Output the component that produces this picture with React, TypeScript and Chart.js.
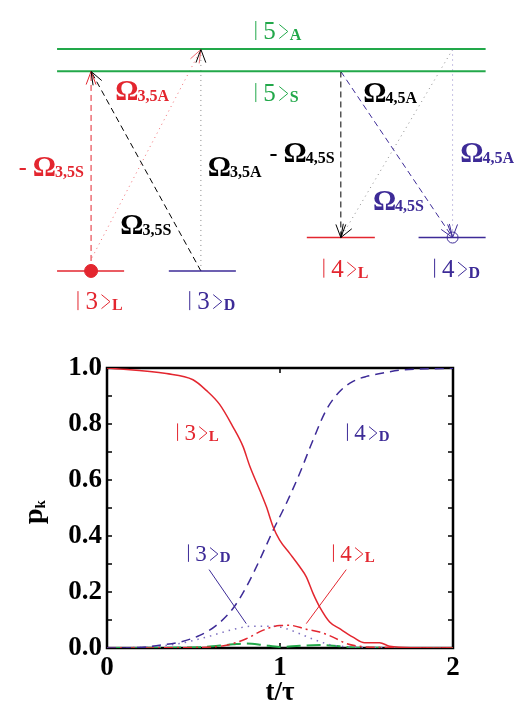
import React, { useEffect, useRef } from 'react';
import { Chart, registerables } from 'chart.js';
Chart.register(...registerables);

const RED = '#e3262f';
const PURPLE = '#3d2b97';
const GREEN = '#22a84a';
const GRAY = '#8a8a8a';
const SERIF = '"Liberation Serif", "DejaVu Serif", serif';

// ---------- bottom plot: populations p_k vs t/tau ----------
const t3L = [0, 0.343, 0.497, 0.574, 0.651, 0.728, 0.786, 0.825, 0.882, 0.921, 0.96, 0.998, 1.056, 1.114, 1.152, 1.191, 1.229, 1.287, 1.345, 1.422, 1.489, 1.576, 1.634, 1.788, 2];
const p3L = [1, 0.98, 0.958, 0.92, 0.87, 0.79, 0.72, 0.65, 0.565, 0.505, 0.433, 0.385, 0.338, 0.29, 0.254, 0.195, 0.147, 0.093, 0.069, 0.039, 0.019, 0.019, 0.006, 0.001, 0];

const t4D = [0, 0.189, 0.304, 0.42, 0.536, 0.632, 0.728, 0.805, 0.882, 0.96, 1.037, 1.114, 1.191, 1.268, 1.345, 1.422, 1.5, 1.595, 1.69, 1.807, 2];
const p4D = [0, 0.002, 0.01, 0.021, 0.045, 0.081, 0.141, 0.218, 0.314, 0.42, 0.517, 0.624, 0.743, 0.851, 0.916, 0.952, 0.97, 0.982, 0.992, 0.996, 0.999];

const t4L = [0, 0.536, 0.69, 0.805, 0.9, 0.998, 1.056, 1.152, 1.229, 1.306, 1.383, 1.46, 1.595, 2];
const p4L = [0, 0.002, 0.01, 0.033, 0.063, 0.08, 0.081, 0.067, 0.057, 0.039, 0.016, 0.006, 0.002, 0];

const t3D = [0, 0.247, 0.42, 0.574, 0.728, 0.844, 0.96, 1.037, 1.114, 1.21, 1.306, 1.422, 2];
const p3D = [0, 0.004, 0.016, 0.039, 0.066, 0.078, 0.078, 0.069, 0.051, 0.027, 0.01, 0.004, 0];

const t5 = [0, 0.536, 0.728, 0.805, 0.9, 0.998, 1.114, 1.229, 1.345, 1.46, 2];
const p5 = [0, 0.003, 0.013, 0.016, 0.011, 0.004, 0.008, 0.011, 0.006, 0.001, 0];

const xTickValues = [0, 1, 2];
const yTickValues = [0, 0.2, 0.4, 0.6, 0.8, 1.0];
const yMinorTicks = [0.1, 0.2, 0.3, 0.4, 0.5, 0.6, 0.7, 0.8, 0.9];
const xMinorTicks = [1];

// pointer lines from curve labels (t, p)
const pointer3D = [[0.59, 0.28], [0.805, 0.087]];
const pointer4L = [[1.383, 0.28], [1.152, 0.087]];

// curve labels: left edge (t), baseline (p)
const plotKets = [
  { t: 0.405, p: 0.743, digit: '3', sub: 'L', color: RED },
  { t: 1.387, p: 0.743, digit: '4', sub: 'D', color: PURPLE },
  { t: 0.468, p: 0.311, digit: '3', sub: 'D', color: PURPLE },
  { t: 1.306, p: 0.311, digit: '4', sub: 'L', color: RED },
];

// ---------- top diagram (diagram units) ----------
const levels = [
  { x1: 51, x2: 492, y: 43.5, color: GREEN, w: 2 },   // |5>A
  { x1: 51, x2: 492, y: 66.7, color: GREEN, w: 2 },   // |5>S
  { x1: 51, x2: 120, y: 276, color: RED, w: 1.5 },    // |3>L
  { x1: 166, x2: 235, y: 276, color: PURPLE, w: 1.5 },// |3>D
  { x1: 308, x2: 378, y: 241, color: RED, w: 1.5 },   // |4>L
  { x1: 423, x2: 492, y: 241, color: PURPLE, w: 1.5 },// |4>D
];

const transitions = [
  { from: [86, 276], to: [86, 67], color: RED, dash: [6, 4] },
  { from: [199, 276], to: [86, 67], color: '#000', dash: [6, 4] },
  { from: [87, 262], to: [199, 44], color: '#f06a70', dash: [1, 4] },
  { from: [199, 276], to: [199, 44], color: GRAY, dash: [1, 4], head: '#000' },
  { from: [343, 67], to: [343, 241], color: '#000', dash: [6, 4] },
  { from: [343, 67], to: [458, 241], color: PURPLE, dash: [6, 4] },
  { from: [458, 44], to: [343, 241], color: GRAY, dash: [1, 4], head: '#000' },
  { from: [458, 44], to: [458, 241], color: '#8f86c8', dash: [1, 4], head: PURPLE },
];

const diagramKets = [
  { x: 255, y: 33, digit: '5', sub: 'A', color: GREEN },
  { x: 255, y: 98, digit: '5', sub: 'S', color: GREEN },
  { x: 72, y: 316, digit: '3', sub: 'L', color: RED },
  { x: 187, y: 316, digit: '3', sub: 'D', color: PURPLE },
  { x: 325, y: 282, digit: '4', sub: 'L', color: RED },
  { x: 439, y: 282, digit: '4', sub: 'D', color: PURPLE },
];

const omegaLabels = [
  { x: 26, y: 177, sub: '3,5S', color: RED, minus: true },
  { x: 111, y: 97, sub: '3,5A', color: RED, minus: false },
  { x: 116, y: 237, sub: '3,5S', color: '#000', minus: false },
  { x: 206, y: 177, sub: '3,5A', color: '#000', minus: false },
  { x: 284, y: 162, sub: '4,5S', color: '#000', minus: true },
  { x: 366, y: 99, sub: '4,5A', color: '#000', minus: false },
  { x: 376, y: 212, sub: '4,5S', color: PURPLE, minus: false },
  { x: 466, y: 162, sub: '4,5A', color: PURPLE, minus: false },
];

const filledDot = [86, 276];
const openDot = [458, 241];

function drawKet(ctx: CanvasRenderingContext2D, x: number, base: number, digit: string, sub: string, color: string, s: number) {
  ctx.save();
  ctx.strokeStyle = color;
  ctx.fillStyle = color;
  ctx.lineWidth = 1;
  ctx.setLineDash([]);
  ctx.beginPath();
  ctx.moveTo(x + 0.5, base - 0.72 * s);
  ctx.lineTo(x + 0.5, base + 0.04 * s);
  ctx.stroke();
  ctx.font = `${s}px ${SERIF}`;
  ctx.textAlign = 'left';
  ctx.textBaseline = 'alphabetic';
  const dx = x + 0.32 * s;
  ctx.fillText(digit, dx, base);
  const dw = ctx.measureText(digit).width;
  const bx = dx + dw + 0.14 * s;
  const bw = 0.34 * s;
  ctx.beginPath();
  ctx.moveTo(bx, base - 0.58 * s);
  ctx.lineTo(bx + bw, base - 0.3 * s);
  ctx.lineTo(bx, base - 0.02 * s);
  ctx.stroke();
  ctx.font = `bold ${Math.round(0.64 * s)}px ${SERIF}`;
  ctx.fillText(sub, bx + bw + 0.08 * s, base + 0.04 * s);
  ctx.restore();
}

function drawOmega(ctx: CanvasRenderingContext2D, x: number, base: number, sub: string, color: string, minus: boolean) {
  ctx.save();
  ctx.fillStyle = color;
  ctx.textAlign = 'left';
  ctx.textBaseline = 'alphabetic';
  ctx.font = `bold 29px ${SERIF}`;
  ctx.fillText('Ω', x, base);
  const w = ctx.measureText('Ω').width;
  ctx.font = `bold 16px ${SERIF}`;
  ctx.fillText(sub, x + w - 1, base + 1);
  if (minus) {
    ctx.font = `bold 24px ${SERIF}`;
    ctx.fillText('-', x - 14, base - 1);
  }
  ctx.restore();
}

const diagramPlugin = {
  id: 'diagram',
  afterDatasetsDraw(chart: any) {
    const ctx = chart.ctx as CanvasRenderingContext2D;
    const xs = chart.scales.x;
    const ys = chart.scales.y;
    chart.data.datasets.forEach((ds: any, i: number) => {
      if (!ds.arrow) return;
      const pts = chart.getDatasetMeta(i).data;
      const a = pts[pts.length - 2];
      const b = pts[pts.length - 1];
      const ang = Math.atan2(b.y - a.y, b.x - a.x);
      const L = 14;
      const half = 0.36;
      ctx.save();
      ctx.strokeStyle = ds.headColor;
      ctx.lineWidth = 1;
      ctx.setLineDash([]);
      ctx.beginPath();
      ctx.moveTo(b.x - L * Math.cos(ang - half), b.y - L * Math.sin(ang - half));
      ctx.lineTo(b.x, b.y);
      ctx.lineTo(b.x - L * Math.cos(ang + half), b.y - L * Math.sin(ang + half));
      ctx.stroke();
      ctx.restore();
    });
    diagramKets.forEach(k => drawKet(ctx, xs.getPixelForValue(k.x), ys.getPixelForValue(k.y), k.digit, k.sub, k.color, 25));
    omegaLabels.forEach(o => drawOmega(ctx, xs.getPixelForValue(o.x), ys.getPixelForValue(o.y), o.sub, o.color, o.minus));
  },
};

const framePlugin = {
  id: 'frame',
  beforeDatasetsDraw(chart: any) {
    const ctx = chart.ctx as CanvasRenderingContext2D;
    const { left, right, top, bottom } = chart.chartArea;
    const xs = chart.scales.x;
    const ys = chart.scales.y;
    ctx.save();
    ctx.strokeStyle = '#000';
    ctx.lineWidth = 2.5;
    ctx.strokeRect(left, top, right - left, bottom - top);
    ctx.lineWidth = 1.5;
    ctx.beginPath();
    yMinorTicks.forEach(v => {
      const py = ys.getPixelForValue(v);
      ctx.moveTo(left, py); ctx.lineTo(left + 5, py);
      ctx.moveTo(right, py); ctx.lineTo(right - 5, py);
    });
    xMinorTicks.forEach(v => {
      const px = xs.getPixelForValue(v);
      ctx.moveTo(px, bottom); ctx.lineTo(px, bottom - 5);
      ctx.moveTo(px, top); ctx.lineTo(px, top + 5);
    });
    ctx.stroke();
    ctx.restore();
  },
  afterDatasetsDraw(chart: any) {
    const ctx = chart.ctx as CanvasRenderingContext2D;
    const xs = chart.scales.x;
    const ys = chart.scales.y;
    const { left, right, bottom } = chart.chartArea;
    plotKets.forEach(k => drawKet(ctx, xs.getPixelForValue(k.t), ys.getPixelForValue(k.p), k.digit, k.sub, k.color, 23));
    ctx.save();
    ctx.fillStyle = '#000';
    ctx.font = `bold 27px ${SERIF}`;
    ctx.textAlign = 'center';
    ctx.textBaseline = 'alphabetic';
    ctx.fillText('t/τ', (left + right) / 2, bottom + 52);
    // y title p_k rotated
    ctx.translate(42, (ys.top + ys.bottom) / 2 + 16);
    ctx.rotate(-Math.PI / 2);
    ctx.textAlign = 'left';
    ctx.font = `bold 28px ${SERIF}`;
    ctx.fillText('p', 0, 0);
    const w = ctx.measureText('p').width;
    ctx.font = `bold 15px ${SERIF}`;
    ctx.fillText('k', w, 3);
    ctx.restore();
  },
};

const zip = (xs: number[], ys: number[]) => xs.map((x, i) => ({ x, y: ys[i] }));

export default function App() {
  const topRef = useRef<HTMLCanvasElement>(null);
  const botRef = useRef<HTMLCanvasElement>(null);

  useEffect(() => {
    const levelSets = levels.map(l => ({
      data: [{ x: l.x1, y: l.y }, { x: l.x2, y: l.y }],
      showLine: true,
      borderColor: l.color,
      borderWidth: l.w,
      pointRadius: 0,
    }));
    const transSets = transitions.map(t => ({
      data: [{ x: t.from[0], y: t.from[1] }, { x: t.to[0], y: t.to[1] }],
      showLine: true,
      borderColor: t.color,
      borderWidth: 1,
      borderDash: t.dash,
      pointRadius: 0,
      arrow: true,
      headColor: t.head || t.color,
    }));
    const markers = [
      { data: [{ x: filledDot[0], y: filledDot[1] }], showLine: false, pointRadius: 6.5, pointBackgroundColor: RED, pointBorderColor: RED, pointBorderWidth: 1 },
      { data: [{ x: openDot[0], y: openDot[1] }], showLine: false, pointRadius: 5.5, pointBackgroundColor: 'rgba(0,0,0,0)', pointBorderColor: PURPLE, pointBorderWidth: 1 },
    ];
    const top = new Chart(topRef.current!, {
      type: 'scatter',
      data: { datasets: [...markers, ...levelSets, ...transSets] as any },
      options: {
        responsive: false,
        animation: false,
        devicePixelRatio: 1,
        events: [],
        layout: { padding: 0 },
        plugins: { legend: { display: false }, tooltip: { enabled: false } },
        scales: {
          x: { type: 'linear', min: 0, max: 532, display: false },
          y: { type: 'linear', min: 0, max: 330, reverse: true, display: false },
        },
      } as any,
      plugins: [diagramPlugin],
    });

    const curve = (xs: number[], ys: number[], color: string, dash: number[], width = 1.5) => ({
      data: zip(xs, ys),
      showLine: true,
      borderColor: color,
      borderWidth: width,
      borderDash: dash,
      pointRadius: 0,
      cubicInterpolationMode: 'monotone',
    });
    const pointer = (pts: number[][], color: string) => ({
      data: pts.map(p => ({ x: p[0], y: p[1] })),
      showLine: true,
      borderColor: color,
      borderWidth: 1,
      pointRadius: 0,
    });
    const tickFont = { family: SERIF, size: 27, weight: 'bold' };
    const bot = new Chart(botRef.current!, {
      type: 'scatter',
      data: {
        datasets: [
          curve(t3L, p3L, RED, []),
          curve(t4D, p4D, PURPLE, [9, 6]),
          curve(t4L, p4L, RED, [9, 4, 2, 4]),
          curve(t3D, p3D, '#7d70c0', [1.5, 5]),
          curve(t5, p5, GREEN, [14, 6], 2),
          pointer(pointer3D, PURPLE),
          pointer(pointer4L, RED),
        ] as any,
      },
      options: {
        responsive: false,
        animation: false,
        devicePixelRatio: 1,
        events: [],
        layout: { padding: { top: 38, right: 79, left: 0, bottom: 0 } },
        plugins: { legend: { display: false }, tooltip: { enabled: false } },
        scales: {
          x: {
            type: 'linear', min: 0, max: 2,
            afterFit: (s: any) => { s.height = 54; },
            afterBuildTicks: (s: any) => { s.ticks = xTickValues.map(v => ({ value: v })); },
            grid: { display: false, drawTicks: false },
            border: { display: false },
            ticks: { color: '#000', font: tickFont, padding: 4, maxRotation: 0, autoSkip: false, callback: (v: any) => String(v) },
          },
          y: {
            type: 'linear', min: 0, max: 1,
            afterFit: (s: any) => { s.width = 107; },
            afterBuildTicks: (s: any) => { s.ticks = yTickValues.map(v => ({ value: v })); },
            grid: { display: false, drawTicks: false },
            border: { display: false },
            ticks: { color: '#000', font: tickFont, padding: 5, autoSkip: false, callback: (v: any) => Number(v).toFixed(1) },
          },
        },
      } as any,
      plugins: [framePlugin],
    });
    return () => { top.destroy(); bot.destroy(); };
  }, []);

  return (
    <div style={{ position: 'fixed', left: 0, top: 0, width: 532, height: 702, background: '#fff', overflow: 'hidden' }}>
      <canvas ref={topRef} width={532} height={330} style={{ position: 'absolute', left: 0, top: 0, width: 532, height: 330 }} />
      <canvas ref={botRef} width={532} height={372} style={{ position: 'absolute', left: 0, top: 330, width: 532, height: 372 }} />
    </div>
  );
}
